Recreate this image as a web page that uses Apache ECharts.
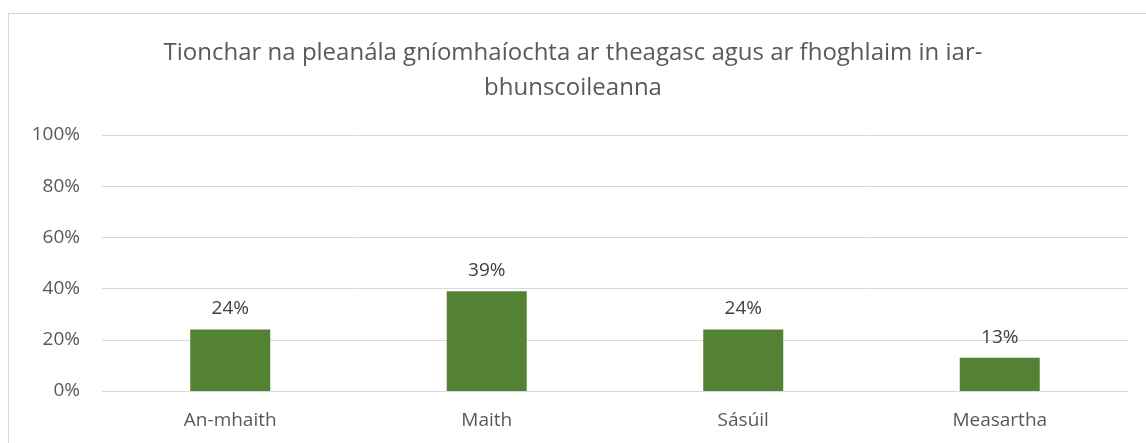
<!DOCTYPE html>
<html>
<head>
<meta charset="utf-8">
<script src="https://cdn.jsdelivr.net/npm/echarts@6/dist/echarts.min.js"></script>
<style>
  html, body { margin: 0; padding: 0; background: #fff; }
  #chart { width: 1146px; height: 443px; }
  .frame {
    position: absolute; left: 8px; top: 13px; width: 1150px; height: 450px;
    border: 1px solid #d9d9d9; box-sizing: border-box; pointer-events: none;
  }
</style>
</head>
<body>
<div class="frame"></div>
<div id="chart"></div>
<script>
// categories and values (percent)
const categories = ['An-mhaith', 'Maith', 'Sásúil', 'Measartha']
const values = [24, 39, 24, 13]
const yTicks = [0, 20, 40, 60, 80, 100]
const titleText = 'Tionchar na pleanála gníomhaíochta ar theagasc agus ar fhoghlaim in iar-\nbhunscoileanna'

const font = '"Open Sans", "Noto Sans", sans-serif'
const myChart = echarts.init(document.getElementById('chart'))
myChart.setOption({
  animation: false,
  title: {
    text: titleText,
    left: 'center',
    top: 31,
    textStyle: {
      fontFamily: font,
      fontSize: 24,
      fontWeight: 'normal',
      color: '#595959',
      lineHeight: 35,
      align: 'center'
    }
  },
  grid: {
    left: 102,
    right: 18,
    top: 135,
    bottom: 52
  },
  xAxis: {
    type: 'category',
    data: categories,
    axisTick: { show: false },
    axisLine: { show: true, lineStyle: { color: '#d9d9d9', width: 1 } },
    axisLabel: {
      color: '#595959',
      fontFamily: font,
      fontSize: 19,
      margin: 20
    }
  },
  yAxis: {
    type: 'value',
    min: yTicks[0],
    max: yTicks[yTicks.length - 1],
    interval: 20,
    axisLine: { show: false },
    axisTick: { show: false },
    splitLine: { lineStyle: { color: '#d9d9d9', width: 1 } },
    axisLabel: {
      color: '#595959',
      fontFamily: font,
      fontSize: 19,
      margin: 22,
      formatter: '{value}%'
    }
  },
  series: [
    {
      type: 'bar',
      data: values,
      barWidth: 80,
      itemStyle: { color: '#548235' },
      label: {
        show: true,
        position: 'top',
        distance: 11,
        color: '#404040',
        fontFamily: font,
        fontSize: 19,
        formatter: '{c}%'
      }
    }
  ]
})
</script>
</body>
</html>
